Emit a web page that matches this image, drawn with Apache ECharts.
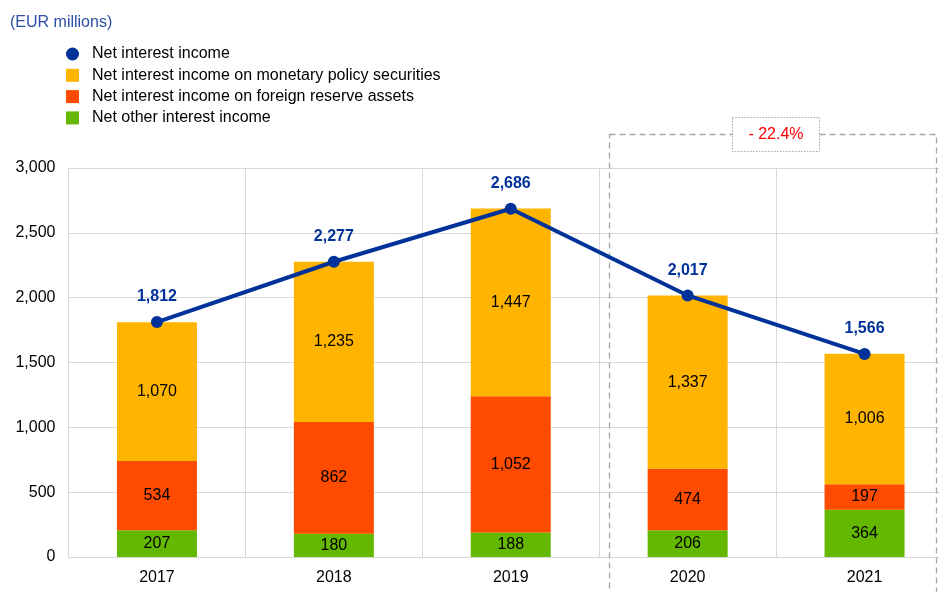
<!DOCTYPE html>
<html><head><meta charset="utf-8">
<script src="https://cdn.jsdelivr.net/npm/echarts@6/dist/echarts.min.js"></script>
<style>html,body{margin:0;padding:0;background:#fff;overflow:hidden;width:939px;height:592px}#c{width:956px;height:592px}</style>
</head><body><div id="c"></div>
<script>
const years = ['2017','2018','2019','2020','2021'];
const netInterest = [1812, 2277, 2686, 2017, 1566];
const monetaryPolicy = [1070, 1235, 1447, 1337, 1006];
const foreignReserve = [534, 862, 1052, 474, 197];
const otherInterest = [207, 180, 188, 206, 364];
const yTicks = [0, 500, 1000, 1500, 2000, 2500, 3000];
const seriesNames = ['Net interest income','Net interest income on monetary policy securities','Net interest income on foreign reserve assets','Net other interest income'];

const FONT = '"Liberation Sans", Arial, sans-serif';
const FS = 16;
const fmt = v => v.toLocaleString('en-US');
const change = ((netInterest[4] - netInterest[3]) / netInterest[3] * 100).toFixed(1);

const chart = echarts.init(document.getElementById('c'), null, {renderer: 'canvas'});
const barLabel = {show: true, position: 'inside', color: '#000', fontSize: FS, fontFamily: FONT, formatter: p => fmt(p.value)};
chart.setOption({
  animation: false,
  textStyle: {fontFamily: FONT},
  title: {text: '(EUR millions)', left: 5, top: 10, textStyle: {color: '#2c4fa3', fontSize: FS, fontWeight: 'normal', fontFamily: FONT}},
  legend: {
    orient: 'vertical', left: 61, top: 41, itemGap: 5.3, itemWidth: 13, itemHeight: 13,
    data: [{name: seriesNames[0], icon: 'circle'}, {name: seriesNames[1], icon: 'rect'}, {name: seriesNames[2], icon: 'rect'}, {name: seriesNames[3], icon: 'rect'}],
    textStyle: {fontSize: FS, lineHeight: 16, color: '#000', fontFamily: FONT, padding: [0, 0, 0, 8]},
    selectedMode: false
  },
  grid: {left: 68.5, width: 884.5, top: 168, bottom: 35, containLabel: false},
  xAxis: {
    type: 'category', data: years, boundaryGap: true,
    axisLine: {show: true, lineStyle: {color: '#d9d9d9', width: 1}},
    axisTick: {show: false},
    axisLabel: {color: '#000', fontSize: FS, fontFamily: FONT, margin: 13},
    splitLine: {show: true, lineStyle: {color: '#d9d9d9', width: 1}}
  },
  yAxis: {
    type: 'value', min: yTicks[0], max: yTicks[yTicks.length - 1], interval: yTicks[1] - yTicks[0],
    axisLine: {show: false}, axisTick: {show: false},
    axisLabel: {color: '#000', fontSize: FS, fontFamily: FONT, margin: 13, formatter: v => fmt(v)},
    splitLine: {show: true, lineStyle: {color: '#d9d9d9', width: 1}}
  },
  series: [
    {name: seriesNames[3], type: 'bar', stack: 's', data: otherInterest, barWidth: 80, itemStyle: {color: '#65B800'}, label: barLabel},
    {name: seriesNames[2], type: 'bar', stack: 's', data: foreignReserve, barWidth: 80, itemStyle: {color: '#FF4B00'}, label: barLabel},
    {name: seriesNames[1], type: 'bar', stack: 's', data: monetaryPolicy, barWidth: 80, itemStyle: {color: '#FFB400'}, label: barLabel},
    {name: seriesNames[0], type: 'line', data: netInterest, z: 10,
      lineStyle: {color: '#003299', width: 4}, itemStyle: {color: '#003299'},
      symbol: 'circle', symbolSize: 12, showAllSymbol: true,
      label: {show: true, position: 'top', distance: 11, color: '#003299', fontWeight: 'bold', fontSize: FS, fontFamily: FONT, formatter: p => fmt(p.value)}}
  ],
  graphic: [
    {type: 'rect', shape: {x: 609.5, y: 134.5, width: 327, height: 470}, style: {fill: 'none', stroke: '#a6a6a6', lineWidth: 1.3, lineDash: [6, 4]}, z: 1},
    {type: 'rect', shape: {x: 732.5, y: 117.5, width: 87, height: 34}, style: {fill: '#fff', stroke: '#a6a6a6', lineWidth: 1, lineDash: [1.5, 1.5]}, z: 2},
    {type: 'text', x: 776, y: 135, style: {text: '- ' + Math.abs(change) + '%', fill: '#ff0000', font: FS + 'px ' + FONT, textAlign: 'center', textVerticalAlign: 'middle'}, z: 3}
  ]
});
</script></body></html>
